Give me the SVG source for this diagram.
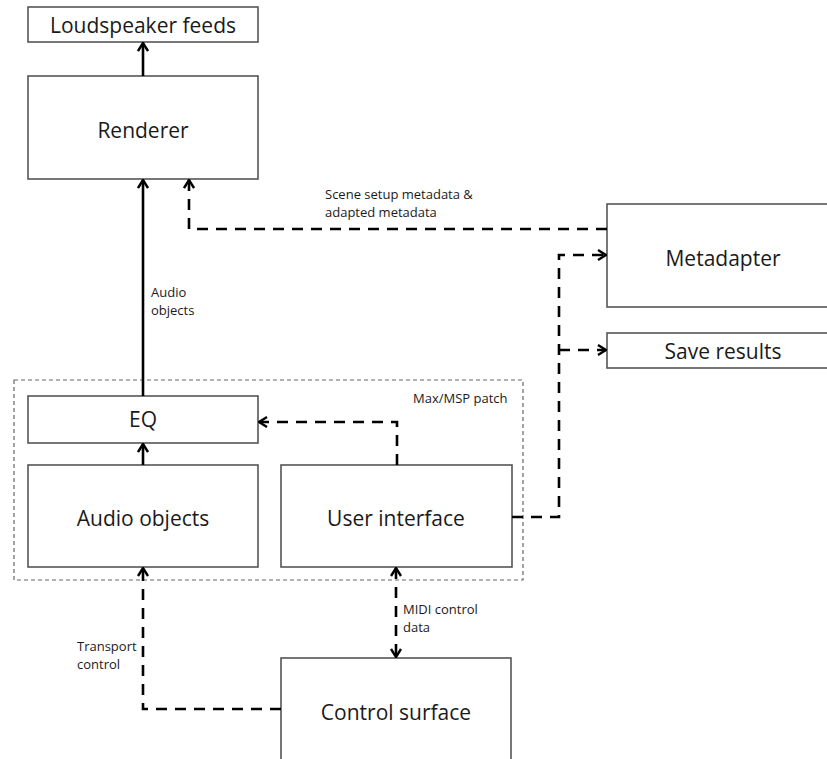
<svg xmlns="http://www.w3.org/2000/svg" width="827" height="759" viewBox="0 0 827 759">
<style>
.box{fill:#fff;stroke:#555;stroke-width:1.6}
.patch{fill:none;stroke:#666;stroke-width:1.2;stroke-dasharray:4 3}
.t{font-family:"Open Sans","Liberation Sans",sans-serif;font-size:21px;fill:#1a1a1a;text-anchor:middle}
.s{font-family:"Open Sans","Liberation Sans",sans-serif;font-size:13px;fill:#1a1a1a}
.c{fill:none;stroke:#000;stroke-width:2.6}
.d{stroke-dasharray:11 8}
</style>
<defs>
<marker id="ah" viewBox="0 0 10 12" refX="9" refY="6" markerWidth="10" markerHeight="12" markerUnits="userSpaceOnUse" orient="auto-start-reverse">
<path d="M1,1 L9,6 L1,11" fill="none" stroke="#000" stroke-width="2.4"/>
</marker>
</defs>
<rect width="827" height="759" fill="#fff"/>
<g id="patch">
<rect class="patch" x="14" y="380" width="509" height="200"/>
<text class="s" x="413" y="403">Max/MSP patch</text>
</g>
<g id="loudspeaker">
<rect class="box" x="28" y="7" width="230" height="35"/>
<text class="t" x="143" y="33">Loudspeaker feeds</text>
</g>
<g id="renderer">
<rect class="box" x="28" y="76" width="230" height="103"/>
<text class="t" x="143" y="138">Renderer</text>
</g>
<g id="metadapter">
<rect class="box" x="607" y="204" width="230" height="103"/>
<text class="t" x="723" y="266">Metadapter</text>
</g>
<g id="save">
<rect class="box" x="607" y="333" width="230" height="35"/>
<text class="t" x="723" y="359">Save results</text>
</g>
<g id="eq">
<rect class="box" x="28" y="396" width="230" height="47"/>
<text class="t" x="143" y="427">EQ</text>
</g>
<g id="audio">
<rect class="box" x="28" y="465" width="230" height="102"/>
<text class="t" x="143" y="526">Audio objects</text>
</g>
<g id="ui">
<rect class="box" x="281" y="465" width="231" height="102"/>
<text class="t" x="396" y="526">User interface</text>
</g>
<g id="control">
<rect class="box" x="281" y="658" width="230" height="120"/>
<text class="t" x="396" y="720">Control surface</text>
</g>
<g id="connectors">
<line class="c" x1="143" y1="76" x2="143" y2="43" marker-end="url(#ah)"/>
<line class="c" x1="143" y1="396" x2="143" y2="180" marker-end="url(#ah)"/>
<line class="c" x1="143" y1="465" x2="143" y2="444" marker-end="url(#ah)"/>
<polyline class="c d" points="607,229 189,229 189,180" marker-end="url(#ah)"/>
<polyline class="c d" points="397,465 397,422 259,422" marker-end="url(#ah)"/>
<polyline class="c d" points="512,517 559,517 559,255 606,255" marker-end="url(#ah)"/>
<polyline class="c d" points="559,350 606,350" marker-end="url(#ah)"/>
<polyline class="c d" points="281,709 143,709 143,568" marker-end="url(#ah)"/>
<line class="c d" x1="396" y1="568" x2="396" y2="657" marker-start="url(#ah)" marker-end="url(#ah)"/>
<text class="s" x="325" y="199">Scene setup metadata &amp;</text>
<text class="s" x="325" y="217">adapted metadata</text>
<text class="s" x="151" y="297">Audio</text>
<text class="s" x="151" y="315">objects</text>
<text class="s" x="77" y="651">Transport</text>
<text class="s" x="77" y="669">control</text>
<text class="s" x="403" y="614">MIDI control</text>
<text class="s" x="403" y="632">data</text>
</g>
</svg>
